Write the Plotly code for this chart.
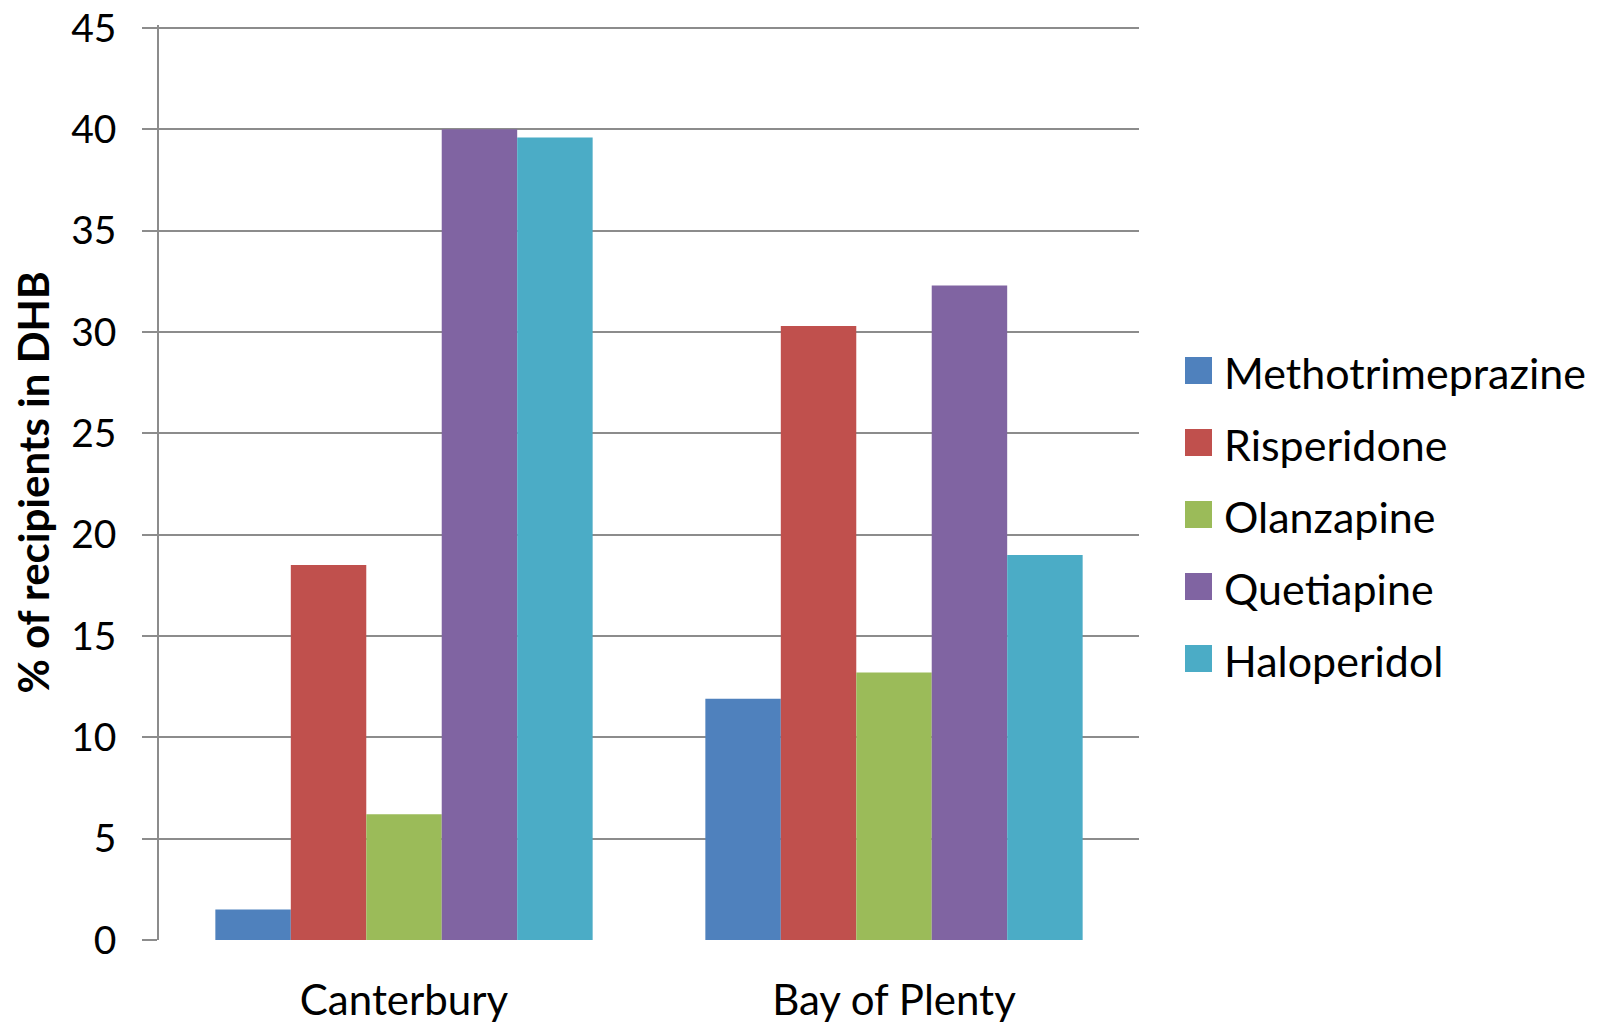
import plotly.graph_objects as go

categories = ["Canterbury", "Bay of Plenty"]
series_names = ["Methotrimeprazine", "Risperidone", "Olanzapine", "Quetiapine", "Haloperidol"]
methotrimeprazine = [1.5, 11.9]
risperidone = [18.5, 30.3]
olanzapine = [6.2, 13.2]
quetiapine = [40.0, 32.3]
haloperidol = [39.6, 19.0]
series_values = [methotrimeprazine, risperidone, olanzapine, quetiapine, haloperidol]
colors = ["#4F81BD", "#C0504D", "#9BBB59", "#8064A2", "#4BACC6"]
y_ticks = [0, 5, 10, 15, 20, 25, 30, 35, 40, 45]

W, H = 1609, 1024
ML, MR, MT, MB = 159, 470, 25, 84
PW, PH = W - ML - MR, H - MT - MB
FONT = "Lato"

fig = go.Figure()
for name, vals, c in zip(series_names, series_values, colors):
    fig.add_trace(go.Bar(x=categories, y=vals, name=name, marker=dict(color=c, line=dict(width=0)),
                         showlegend=False))

def px2paper(x, y):
    return (x - ML) / PW, (H - MB - y) / PH

shapes = []
annotations = []
row0, step = 370.5, 72
for i, (name, c) in enumerate(zip(series_names, colors)):
    cy = row0 + i * step
    x0, y0 = px2paper(1185, cy + 13.5)
    x1, y1 = px2paper(1212, cy - 13.5)
    shapes.append(dict(type="rect", xref="paper", yref="paper", x0=x0, x1=x1, y0=y0, y1=y1,
                       fillcolor=c, line=dict(width=0)))
    tx, ty = px2paper(1222, cy + 2)
    annotations.append(dict(xref="paper", yref="paper", x=tx, y=ty, text=name, showarrow=False,
                            xanchor="left", yanchor="middle",
                            font=dict(family=FONT, size=43, color="#000000")))

fig.update_layout(
    width=W, height=H,
    margin=dict(l=ML, r=MR, t=MT, b=MB, autoexpand=False),
    paper_bgcolor="white", plot_bgcolor="white",
    barmode="group", bargap=0.23, bargroupgap=0,
    font=dict(family=FONT, color="#000000"),
    shapes=shapes, annotations=annotations,
    xaxis=dict(showgrid=False, showline=False, ticks="", tickfont=dict(size=42),
               ticklabelstandoff=32, automargin=False),
    yaxis=dict(range=[0, 45.15], tickvals=y_ticks, showgrid=True, gridcolor="#8C8C8C", gridwidth=1.5,
               showline=True, linecolor="#8C8C8C", linewidth=1.5, ticks="outside", ticklen=15,
               tickcolor="#8C8C8C", tickwidth=1.5, tickfont=dict(size=39), ticklabelstandoff=18,
               zeroline=False, automargin=False,
               title=dict(text="<b>% of recipients in DHB</b>", font=dict(size=42), standoff=9)),
)
fig.write_html("out.html")
